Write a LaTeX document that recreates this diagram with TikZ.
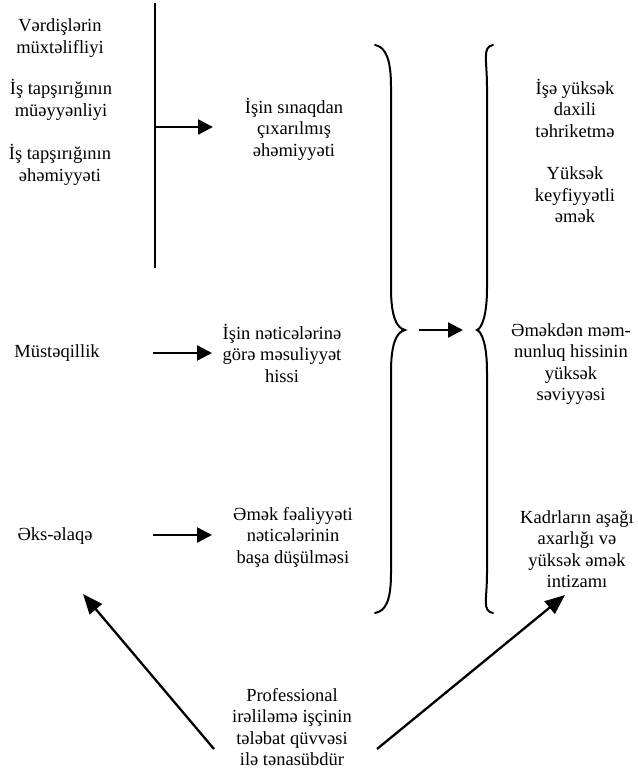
\documentclass[tikz,border=0pt]{standalone}
\usepackage{fontspec}
\setmainfont{Liberation Serif}
\usetikzlibrary{arrows.meta}
\begin{document}
\begin{tikzpicture}[x=1pt,y=-1pt,
  txt/.style={align=center, font=\fontsize{18.5}{21.5}\selectfont, inner sep=0pt},
  arr/.style={line width=2.3pt, -{Triangle[length=15pt,width=15pt]}},
  darr/.style={line width=2.3pt, -{Triangle[length=20pt,width=16pt]}},
  brace/.style={line width=2pt, line cap=round}]
\useasboundingbox (0,0) rectangle (637,773);

% left column: sources
\node[txt] (l1) at (60,38)  {Vərdişlərin\\müxtəlifliyi};
\node[txt] (l2) at (61,100) {İş tapşırığının\\müəyyənliyi};
\node[txt] (l3) at (60,165) {İş tapşırığının\\əhəmiyyəti};
\node[txt] (l4) at (57,353) {Müstəqillik};
\node[txt] (l5) at (55,536) {Əks-əlaqə};

% middle column
\node[txt] (m1) at (294,129) {İşin sınaqdan\\çıxarılmış\\əhəmiyyəti};
\node[txt] (m2) at (282,353) {İşin nəticələrinə\\görə məsuliyyət\\hissi};
\node[txt] (m3) at (293,537) {Əmək fəaliyyəti\\nəticələrinin\\başa düşülməsi};

% right column: results
\node[txt] (r1) at (575,108) {İşə yüksək\\daxili\\təhriketmə};
\node[txt] (r2) at (575,195) {Yüksək\\keyfiyyətli\\əmək};
\node[txt] (r3) at (571,364) {Əməkdən məm-\\nunluq hissinin\\yüksək\\səviyyəsi};
\node[txt] (r4) at (577,549) {Kadrların aşağı\\axarlığı və\\yüksək əmək\\intizamı};

% bottom statement
\node[txt] (b) at (292,727) {Professional\\irəliləmə işçinin\\tələbat qüvvəsi\\ilə tənasübdür};

% vertical bar grouping the first three factors
\coordinate (vtop) at (155,3);
\coordinate (vbot) at (155,268);
\coordinate (vmid) at (155,127);
\draw[line width=2pt] (vtop) -- (vbot);

% horizontal arrows
\coordinate (a1e) at (213,127);
\coordinate (a2s) at (153,353);
\coordinate (a2e) at (212,353);
\coordinate (a3s) at (153,535);
\coordinate (a3e) at (212,535);
\coordinate (a4s) at (419,330);
\coordinate (a4e) at (463,330);
\draw[arr] (vmid) -- (a1e);
\draw[arr] (a2s) -- (a2e);
\draw[arr] (a3s) -- (a3e);
\draw[arr] (a4s) -- (a4e);

% closing brace
\draw[brace] (375,45) .. controls (386,47) and (391,60) .. (391,87)
  -- (391,288) .. controls (391,315) and (396,328) .. (405,330)
  .. controls (396,332) and (391,345) .. (391,372)
  -- (391,573) .. controls (391,600) and (386,611) .. (375,613);

% opening brace
\draw[brace] (493,45) .. controls (482,47) and (487,60) .. (487,87)
  -- (487,288) .. controls (487,315) and (482,328) .. (477,330)
  .. controls (482,332) and (487,345) .. (487,372)
  -- (487,573) .. controls (487,600) and (482,611) .. (493,613);

% diagonal arrows from the bottom statement
\coordinate (dl) at (214,749);
\coordinate (dlt) at (83,594);
\coordinate (dr) at (377,749);
\coordinate (drt) at (565,595);
\draw[darr] (dl) -- (dlt);
\draw[darr] (dr) -- (drt);
\end{tikzpicture}
\end{document}
